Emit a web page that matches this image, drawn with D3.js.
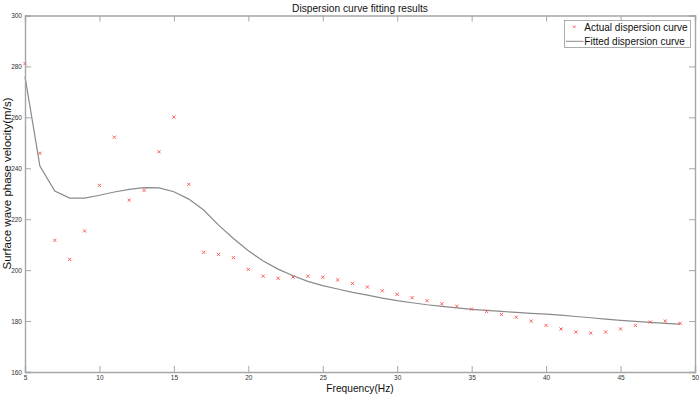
<!DOCTYPE html>
<html><head><meta charset="utf-8">
<script src="https://cdn.jsdelivr.net/npm/d3@7"></script>
<style>body{margin:0;background:#fff}svg{display:block;font-family:"Liberation Sans",Arial,sans-serif}</style>
</head><body><svg id="c" width="699" height="397"></svg>
<script>
const freqActual = [5,6,7,8,9,10,11,12,13,14,15,16,17,18,19,20,21,22,23,24,25,26,27,28,29,30,31,32,33,34,35,36,37,38,39,40,41,42,43,44,45,46,47,48,49];
const velActual = [281.1,245.9,211.7,204.2,215.4,233.3,252.2,227.5,231.3,246.5,260.1,233.7,207.0,206.2,204.9,200.3,197.6,196.8,197.3,197.6,197.2,196.2,194.8,193.4,191.9,190.5,189.2,188.0,186.8,185.8,184.7,183.8,182.6,181.5,180.0,178.3,176.9,175.7,175.3,175.7,176.9,178.3,179.6,180.0,179.1];
const freqFit = [5,6,7,8,9,10,11,12,13,14,15,16,17,18,19,20,21,22,23,24,25,26,27,28,29,30,31,32,33,34,35,36,37,38,39,40,41,42,43,44,45,46,47,48,49];
const velFit = [276.0,240.9,231.1,228.3,228.3,229.4,230.7,231.7,232.4,232.3,230.8,227.9,223.6,217.7,212.4,207.6,203.6,200.4,197.8,195.6,193.9,192.6,191.3,190.2,189.0,188.0,187.2,186.4,185.8,185.2,184.6,184.2,183.8,183.4,183.0,182.7,182.3,181.8,181.3,180.8,180.3,179.9,179.5,179.1,178.8];
const xTicks = [5,10,15,20,25,30,35,40,45,50];
const yTicks = [160,180,200,220,240,260,280,300];
const title = "Dispersion curve fitting results";
const xLabel = "Frequency(Hz)";
const yLabel = "Surface wave phase velocity(m/s)";
const legendLabels = ["Actual dispersion curve","Fitted dispersion curve"];

const L=25,R=695,T=15.5,B=372;
const svg=d3.select("#c");
const x=d3.scaleLinear().domain([5,50]).range([L,R]);
const y=d3.scaleLinear().domain([160,300]).range([B,T]);
const axisCol="#a6a6a6", txtCol="#333";

// fitted line
svg.append("path").datum(freqFit.map((f,i)=>[f,velFit[i]]))
  .attr("d",d3.line().x(d=>x(d[0])).y(d=>y(d[1])))
  .attr("fill","none").attr("stroke","#8a8a8a").attr("stroke-width",1.2);
// markers
const s=1.6;
const mk=svg.append("g").attr("stroke","#ff4d4d").attr("stroke-width",0.9);
freqActual.forEach((f,i)=>{
  const cx=x(f),cy=y(velActual[i]);
  mk.append("path").attr("d",`M${cx-s},${cy-s}L${cx+s},${cy+s}M${cx-s},${cy+s}L${cx+s},${cy-s}`);
});

// axes
const tl=6;
const gx=svg.append("g").attr("transform",`translate(0,${B})`).call(d3.axisBottom(x).tickValues(xTicks).tickSize(-tl).tickPadding(3).tickFormat(d3.format("d")));
const gxt=svg.append("g").attr("transform",`translate(0,${T})`).call(d3.axisTop(x).tickValues(xTicks).tickSize(-tl).tickFormat(""));
const gy=svg.append("g").attr("transform",`translate(${L},0)`).call(d3.axisLeft(y).tickValues(yTicks).tickSize(-tl).tickPadding(3).tickFormat(d3.format("d")));
const gyr=svg.append("g").attr("transform",`translate(${R},0)`).call(d3.axisRight(y).tickValues(yTicks).tickSize(-tl).tickFormat(""));
[gx,gxt,gy,gyr].forEach(g=>{
  g.select(".domain").attr("stroke",axisCol).attr("stroke-width",1.4);
  g.selectAll(".tick line").attr("stroke",axisCol).attr("stroke-width",1);
  g.selectAll(".tick text").attr("fill",txtCol).attr("font-size",6.5).attr("font-family","Liberation Sans, Arial, sans-serif");
});

// title & labels
svg.append("text").attr("x",(L+R)/2).attr("y",11.5).attr("text-anchor","middle").attr("font-size",10.2).attr("fill","#111").text(title);
svg.append("text").attr("x",(L+R)/2).attr("y",392).attr("text-anchor","middle").attr("font-size",10.2).attr("fill","#111").text(xLabel);
svg.append("text").attr("transform",`translate(10.8,183.5) rotate(-90)`).attr("text-anchor","middle").attr("font-size",11.5).attr("fill","#111").text(yLabel);

// legend
const lg=svg.append("g");
lg.append("rect").attr("x",564.5).attr("y",20.5).attr("width",126).attr("height",27).attr("fill","#fff").attr("stroke","#999").attr("stroke-width",0.8);
const lx=574.3, ly=26.8, ls=1.4;
lg.append("path").attr("d",`M${lx-ls},${ly-ls}L${lx+ls},${ly+ls}M${lx-ls},${ly+ls}L${lx+ls},${ly-ls}`).attr("stroke","#ff4d4d").attr("stroke-width",0.8);
lg.append("line").attr("x1",566).attr("x2",583.5).attr("y1",41.3).attr("y2",41.3).attr("stroke","#8a8a8a").attr("stroke-width",1);
lg.append("text").attr("x",584.3).attr("y",30.5).attr("font-size",10).attr("fill","#111").text(legendLabels[0]);
lg.append("text").attr("x",584.3).attr("y",44.5).attr("font-size",10).attr("fill","#111").text(legendLabels[1]);
</script></body></html>
